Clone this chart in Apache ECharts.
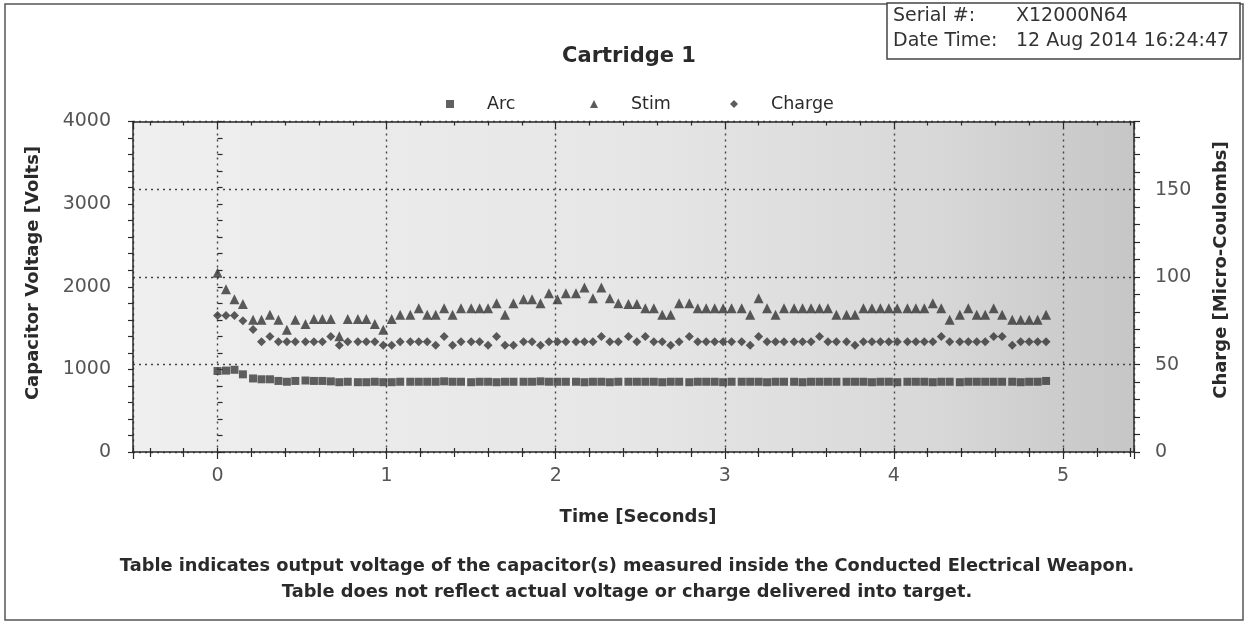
<!DOCTYPE html>
<html><head><meta charset="utf-8">
<script src="https://cdn.jsdelivr.net/npm/echarts@6/dist/echarts.min.js"></script>
<style>html,body{margin:0;padding:0;background:#fff}#c{width:1249px;height:625px}</style>
</head><body><div id="c"></div>
<script>
// ---- data ----
const times = [0, 0.05, 0.10, 0.15, 0.21, 0.26, 0.31, 0.36, 0.41, 0.46,
  0.52, 0.57, 0.62, 0.67, 0.72, 0.77, 0.83, 0.88, 0.93, 0.98,
  1.03, 1.08, 1.14, 1.19, 1.24, 1.29, 1.34, 1.39, 1.44, 1.50,
  1.55, 1.60, 1.65, 1.70, 1.75, 1.81, 1.86, 1.91, 1.96, 2.01,
  2.06, 2.12, 2.17, 2.22, 2.27, 2.32, 2.37, 2.43, 2.48, 2.53,
  2.58, 2.63, 2.68, 2.73, 2.79, 2.84, 2.89, 2.94, 2.99, 3.04,
  3.10, 3.15, 3.20, 3.25, 3.30, 3.35, 3.41, 3.46, 3.51, 3.56,
  3.61, 3.66, 3.72, 3.77, 3.82, 3.87, 3.92, 3.97, 4.02, 4.08,
  4.13, 4.18, 4.23, 4.28, 4.33, 4.39, 4.44, 4.49, 4.54, 4.59,
  4.64, 4.70, 4.75, 4.80, 4.85, 4.90];

const arcVolts = [980, 985, 995, 940, 890, 880, 880, 860, 850, 860, 865, 860, 860, 855, 845, 850, 845, 845, 850, 845, 845, 850, 850, 850,
  850, 850, 855, 850, 850, 845, 850, 850, 845, 850, 850, 850, 850, 855, 850, 850, 850, 850, 845, 850, 850, 845, 850, 850,
  850, 850, 850, 845, 850, 850, 845, 850, 850, 850, 845, 850, 850, 850, 850, 845, 850, 850, 850, 845, 850, 850, 850, 850,
  850, 850, 850, 845, 850, 850, 845, 850, 850, 850, 845, 850, 850, 845, 850, 850, 850, 850, 850, 850, 845, 850, 850, 860];

const stimVolts = [2170, 1970, 1850, 1790, 1600, 1600, 1660, 1600, 1480, 1600,
  1550, 1610, 1610, 1610, 1400, 1610, 1610, 1610, 1550, 1480,
  1610, 1660, 1660, 1740, 1660, 1660, 1740, 1660, 1740, 1740,
  1740, 1740, 1800, 1660, 1800, 1850, 1850, 1800, 1920, 1850,
  1920, 1920, 1990, 1860, 1990, 1860, 1800, 1790, 1790, 1740,
  1740, 1660, 1660, 1800, 1800, 1740, 1740, 1740, 1740, 1740,
  1740, 1660, 1860, 1740, 1660, 1740, 1740, 1740, 1740, 1740,
  1740, 1660, 1660, 1660, 1740, 1740, 1740, 1740, 1740, 1740,
  1740, 1740, 1800, 1740, 1600, 1660, 1740, 1660, 1660, 1740,
  1660, 1600, 1600, 1600, 1600, 1660];

const chargeMicroC = [78, 78, 78, 75, 70, 63, 66, 63, 63, 63,
  63, 63, 63, 66, 61, 63, 63, 63, 63, 61,
  61, 63, 63, 63, 63, 61, 66, 61, 63, 63,
  63, 61, 66, 61, 61, 63, 63, 61, 63, 63,
  63, 63, 63, 63, 66, 63, 63, 66, 63, 66,
  63, 63, 61, 63, 66, 63, 63, 63, 63, 63,
  63, 61, 66, 63, 63, 63, 63, 63, 63, 66,
  63, 63, 63, 61, 63, 63, 63, 63, 63, 63,
  63, 63, 63, 66, 63, 63, 63, 63, 63, 66,
  66, 61, 63, 63, 63, 63];

const seriesNames = ['Arc', 'Stim', 'Charge'];
const titleText = 'Cartridge 1';
const serialText = ['Serial #:', 'X12000N64'];
const dateText = ['Date Time:', '12 Aug 2014 16:24:47'];
const xName = 'Time [Seconds]';
const yLeftName = 'Capacitor Voltage [Volts]';
const yRightName = 'Charge [Micro-Coulombs]';
const footer = ['Table indicates output voltage of the capacitor(s) measured inside the Conducted Electrical Weapon.',
  'Table does not reflect actual voltage or charge delivered into target.'];

// ---- chart ----
const FONT = 'DejaVu Sans';
const INK = '#2a2a2a';
const LBL = '#555';
const axLine = { show: true, onZero: false, lineStyle: { color: INK, width: 1.5 } };
const tickStyle = { color: INK, width: 1.2 };
const gridDots = { color: '#444', width: 1.4, type: [2, 4] };
const pairs = arr => arr.map((v, i) => [times[i], v]);
const intLabel = v => (Math.abs(v - Math.round(v)) < 1e-9 ? String(Math.round(v)) : '');
const legendLefts = [441, 585, 725];
const legends = seriesNames.map((n, i) => ({
  top: 90, left: legendLefts[i], itemWidth: 8, itemHeight: 8,
  data: [n],
  formatter: s => '{g| }' + s,
  textStyle: { fontFamily: FONT, fontSize: 17.5, color: INK, rich: { g: { width: 28 } } }
}));

const chart = echarts.init(document.getElementById('c'), null, { renderer: 'canvas' });
chart.setOption({
  animation: false,
  backgroundColor: '#fff',
  title: { text: titleText, left: 624, top: 41, textAlign: 'center',
    textStyle: { fontFamily: FONT, fontWeight: 'bold', fontSize: 21, color: INK } },
  legend: legends,
  grid: { left: 133, right: 115, top: 121.5, bottom: 173, show: true, borderWidth: 0,
    backgroundColor: new echarts.graphic.LinearGradient(0, 0, 1, 0, [
      { offset: 0, color: '#efefef' }, { offset: 0.5, color: '#e6e6e6' },
      { offset: 0.8, color: '#d8d8d8' }, { offset: 1, color: '#c6c6c6' }]) },
  xAxis: [
    { type: 'value', position: 'bottom', min: -0.5, max: 5.42, splitNumber: 5,
      axisLine: axLine, axisTick: { show: true, length: 7, lineStyle: tickStyle },
      minorTick: { show: true, splitNumber: 5, length: 5, lineStyle: tickStyle },
      axisLabel: { margin: 15, fontFamily: FONT, fontSize: 19, color: LBL, formatter: intLabel },
      splitLine: { show: true, lineStyle: gridDots } },
    { type: 'value', position: 'top', min: -0.5, max: 5.42, splitNumber: 5,
      axisLine: axLine, axisTick: { show: true, inside: true, length: 7, lineStyle: tickStyle },
      minorTick: { show: true, splitNumber: 5, length: 4, lineStyle: tickStyle },
      axisLabel: { show: false }, splitLine: { show: false } },
    { type: 'value', position: 'bottom', min: -0.5, max: 5.42, splitNumber: 5,
      axisLine: { show: false }, axisTick: { show: true, inside: true, length: 4, lineStyle: tickStyle },
      minorTick: { show: true, splitNumber: 5, length: 4, lineStyle: tickStyle },
      axisLabel: { show: false }, splitLine: { show: false } }
  ],
  yAxis: [
    { type: 'value', position: 'left', min: 0, max: 4000, interval: 1000,
      axisLine: axLine, axisTick: { show: true, length: 5, lineStyle: tickStyle },
      minorTick: { show: true, splitNumber: 5, length: 5, lineStyle: tickStyle },
      axisLabel: { margin: 22, fontFamily: FONT, fontSize: 19, color: LBL, formatter: v => String(v) },
      splitLine: { show: false } },
    { type: 'value', position: 'right', min: 0, max: 189, interval: 50,
      axisLine: axLine, axisTick: { show: true, length: 6, lineStyle: tickStyle },
      minorTick: { show: true, splitNumber: 5, length: 6, lineStyle: tickStyle },
      axisLabel: { margin: 21, fontFamily: FONT, fontSize: 19, color: LBL,
        formatter: v => (v % 50 === 0 ? String(v) : '') },
      splitLine: { show: true, lineStyle: gridDots } },
    { type: 'value', position: 'left', min: 0, max: 4000, interval: 1000,
      axisLine: { show: false }, axisTick: { show: true, inside: true, length: 5, lineStyle: tickStyle },
      minorTick: { show: true, splitNumber: 5, length: 5, lineStyle: tickStyle },
      axisLabel: { show: false }, splitLine: { show: false } }
  ],
  series: [
    { name: seriesNames[0], type: 'scatter', xAxisIndex: 0, yAxisIndex: 0, symbol: 'rect', symbolSize: 8,
      itemStyle: { color: '#3a3a3a' }, data: pairs(arcVolts) },
    { name: seriesNames[1], type: 'scatter', xAxisIndex: 0, yAxisIndex: 0, symbol: 'triangle', symbolSize: 10,
      itemStyle: { color: '#333' }, data: pairs(stimVolts) },
    { name: seriesNames[2], type: 'scatter', xAxisIndex: 0, yAxisIndex: 1, symbol: 'diamond', symbolSize: 9,
      itemStyle: { color: '#333' }, data: pairs(chargeMicroC) }
  ],
  graphic: [
    { type: 'rect', z: -10, shape: { x: 5, y: 4, width: 1238, height: 616 },
      style: { fill: 'none', stroke: '#555', lineWidth: 1.5 } },
    { type: 'rect', shape: { x: 887, y: 3, width: 353, height: 56 },
      style: { fill: '#fff', stroke: '#444', lineWidth: 1.5 } },
    { type: 'text', x: 893, y: 16, style: { text: serialText[0], font: '19px "DejaVu Sans"', fill: '#333', verticalAlign: 'middle' } },
    { type: 'text', x: 1016, y: 16, style: { text: serialText[1], font: '19px "DejaVu Sans"', fill: '#333', verticalAlign: 'middle' } },
    { type: 'text', x: 893, y: 41, style: { text: dateText[0], font: '19px "DejaVu Sans"', fill: '#333', verticalAlign: 'middle' } },
    { type: 'text', x: 1016, y: 41, style: { text: dateText[1], font: '19px "DejaVu Sans"', fill: '#333', verticalAlign: 'middle' } },
    { type: 'text', x: 33, y: 273, rotation: Math.PI / 2,
      style: { text: yLeftName, font: 'bold 18px "DejaVu Sans"', fill: INK, align: 'center', verticalAlign: 'middle' } },
    { type: 'text', x: 1221, y: 270, rotation: Math.PI / 2,
      style: { text: yRightName, font: 'bold 18px "DejaVu Sans"', fill: INK, align: 'center', verticalAlign: 'middle' } },
    { type: 'text', x: 638, y: 517,
      style: { text: xName, font: 'bold 18px "DejaVu Sans"', fill: INK, align: 'center', verticalAlign: 'middle' } },
    { type: 'text', x: 627, y: 566,
      style: { text: footer[0], font: 'bold 17.8px "DejaVu Sans"', fill: INK, align: 'center', verticalAlign: 'middle' } },
    { type: 'text', x: 627, y: 592,
      style: { text: footer[1], font: 'bold 17.8px "DejaVu Sans"', fill: INK, align: 'center', verticalAlign: 'middle' } }
  ]
});
</script></body></html>
